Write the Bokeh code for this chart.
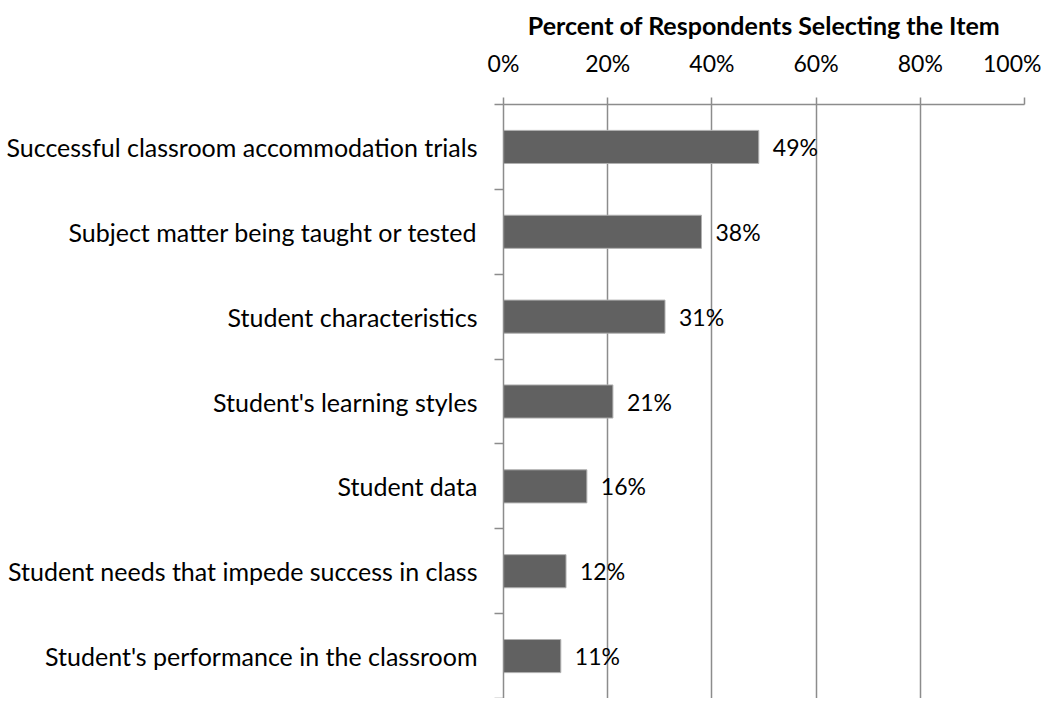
from bokeh.plotting import figure
from bokeh.models import Range1d, FixedTicker, NumeralTickFormatter, ColumnDataSource
from bokeh.core.properties import value
from bokeh.embed import file_html
from bokeh.resources import INLINE

categories = [
    "Successful classroom accommodation trials",
    "Subject matter being taught or tested",
    "Student characteristics",
    "Student's learning styles",
    "Student data",
    "Student needs that impede success in class",
    "Student's performance in the classroom",
]
values = [0.49, 0.38, 0.31, 0.21, 0.16, 0.12, 0.11]
x_ticks = [0, 0.2, 0.4, 0.6, 0.8, 1.0]
axis_title = "Percent of Respondents Selecting the Item"

FONT = "Lato"
GRID = "#8c8c8c"

n = len(categories)
centers = [i + 0.5 for i in range(n)]
bounds = [float(i) for i in range(n + 1)]
labels = [f"{round(v * 100)}%" for v in values]

src = ColumnDataSource(dict(y=centers, v=values, lab=labels))

p = figure(
    width=1041, height=698,
    x_range=Range1d(0, 1.0), y_range=Range1d(n, 0),
    x_axis_location="above",
    output_backend="svg", toolbar_location=None,
    min_border_left=503, min_border_right=17,
    min_border_top=104, min_border_bottom=0,
)
p.outline_line_color = None
p.background_fill_color = "white"

p.hbar(y="y", right="v", left=0, height=0.39, source=src,
       fill_color="#616161", line_color="#b0b0b0", line_width=1)
p.text(x="v", y="y", text="lab", source=src, x_offset=14,
       text_baseline="middle", text_align="left",
       text_font=value(FONT), text_font_size="23px", text_color="black")

# top x axis
xa = p.xaxis[0]
xa.ticker = FixedTicker(ticks=x_ticks)
xa.formatter = NumeralTickFormatter(format="0%")
xa.axis_line_color = GRID
xa.axis_line_width = 1.5
xa.major_tick_line_color = GRID
xa.major_tick_line_width = 1.5
xa.major_tick_out = 7
xa.major_tick_in = 0
xa.minor_tick_line_color = None
xa.major_label_text_font = FONT
xa.major_label_text_font_size = "23px"
xa.major_label_text_color = "black"
xa.major_label_standoff = 21
xa.axis_label = axis_title
xa.axis_label_text_font = FONT
xa.axis_label_text_font_style = "bold"
xa.axis_label_text_font_size = "25px"
xa.axis_label_text_color = "black"
xa.axis_label_standoff = 6

# left y axis: labels at centres, ticks at category boundaries
ya = p.yaxis[0]
ya.ticker = FixedTicker(ticks=centers, minor_ticks=bounds)
ya.major_label_overrides = {c: cat for c, cat in zip(centers, categories)}
ya.axis_line_color = GRID
ya.axis_line_width = 1.5
ya.major_tick_line_color = None
ya.major_tick_out = 0
ya.major_tick_in = 0
ya.minor_tick_line_color = GRID
ya.minor_tick_line_width = 1.5
ya.minor_tick_out = 9
ya.minor_tick_in = 0
ya.major_label_text_font = FONT
ya.major_label_text_font_size = "25px"
ya.major_label_text_color = "black"
ya.major_label_standoff = 17

p.xgrid.ticker = FixedTicker(ticks=x_ticks[1:])
p.xgrid.grid_line_color = GRID
p.xgrid.grid_line_width = 1.5
p.ygrid.grid_line_color = None

open("out.html", "w").write(file_html(p, INLINE))
